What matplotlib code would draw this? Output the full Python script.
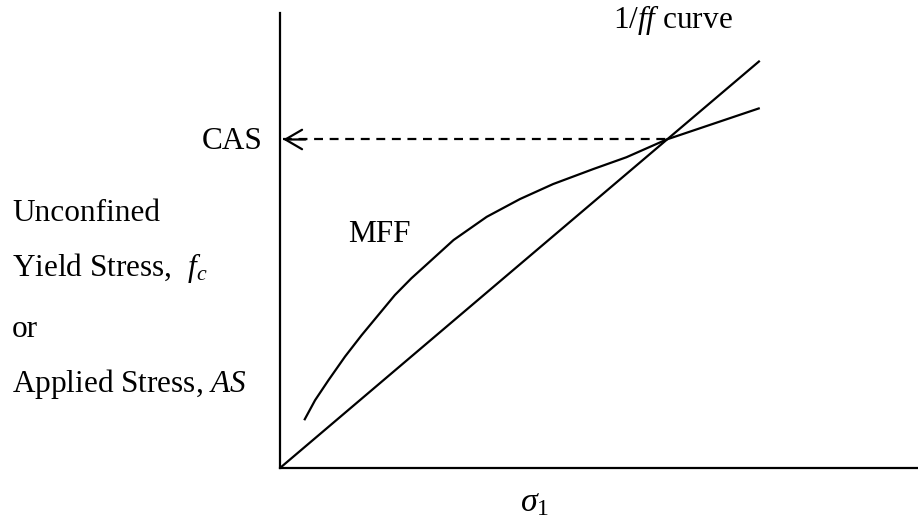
import matplotlib.pyplot as plt

plt.rcParams['font.family'] = ['Liberation Serif', 'DejaVu Serif']
plt.rcParams['mathtext.fontset'] = 'custom'
plt.rcParams['mathtext.rm'] = 'Liberation Serif'
plt.rcParams['mathtext.it'] = 'Liberation Serif:italic'

# MFF (material flow function) curve, sigma_1 vs f_c
mff_x = [0.38, 0.55, 0.76, 1.02, 1.28, 1.54, 1.80, 2.06, 2.32, 2.72, 3.24, 3.76, 4.28, 4.91, 5.43, 6.06, 7.52]
mff_y = [1.05, 1.49, 1.93, 2.45, 2.92, 3.36, 3.80, 4.17, 4.50, 5.01, 5.52, 5.91, 6.24, 6.57, 6.83, 7.22, 7.91]

# 1/ff line through the origin
ff_x = [0.0, 7.52]
ff_y = [0.0, 8.95]

# critical applied stress where the two meet
cas_x = 6.06
cas_y = 7.22

fs = 22.5
lw = 1.6

fig = plt.figure(figsize=(9.18, 5.2), dpi=100)
ax = fig.add_axes([0.305, 0.1, 0.695, 0.875])
ax.set_xlim(0, 10)
ax.set_ylim(0, 10)
for side in ('top', 'right'):
    ax.spines[side].set_visible(False)
for side in ('left', 'bottom'):
    ax.spines[side].set_linewidth(lw)
ax.set_xticks([])
ax.set_yticks([])

ax.plot(mff_x, mff_y, color='black', lw=lw, solid_capstyle='butt', solid_joinstyle='round')
ax.plot(ff_x, ff_y, color='black', lw=lw, solid_capstyle='butt')

# dashed guide back to the stress axis, open arrow head at the end
ax.plot([0.05, cas_x], [cas_y, cas_y], color='black', lw=lw, ls=(0, (4, 3)))
ax.annotate('', xy=(0.05, cas_y), xytext=(0.4, cas_y),
            arrowprops=dict(arrowstyle='->,head_length=1.2,head_width=0.7',
                            color='black', lw=lw, shrinkA=0, shrinkB=0))

ax.text(1.07, 4.97, 'MFF', fontsize=fs, va='baseline', ha='left')
ax.text(5.22, 9.67, r'1/$\mathit{ff}$ curve', fontsize=fs, va='baseline', ha='left', clip_on=False)

fig.text(0.2865, 0.713, 'CAS', fontsize=fs, ha='right', va='baseline')
fig.text(0.013, 0.575, 'Unconfined', fontsize=fs, va='baseline')
fig.text(0.013, 0.469, r'Yield Stress,  $f_c$', fontsize=fs, va='baseline')
fig.text(0.013, 0.352, 'or', fontsize=fs, va='baseline')
fig.text(0.013, 0.246, r'Applied Stress, $AS$', fontsize=fs, va='baseline')
fig.text(0.566, 0.0173, r'$\sigma_1$', fontsize=fs + 2, va='baseline')

fig.savefig('out.png', dpi=100)
plt.close(fig)
